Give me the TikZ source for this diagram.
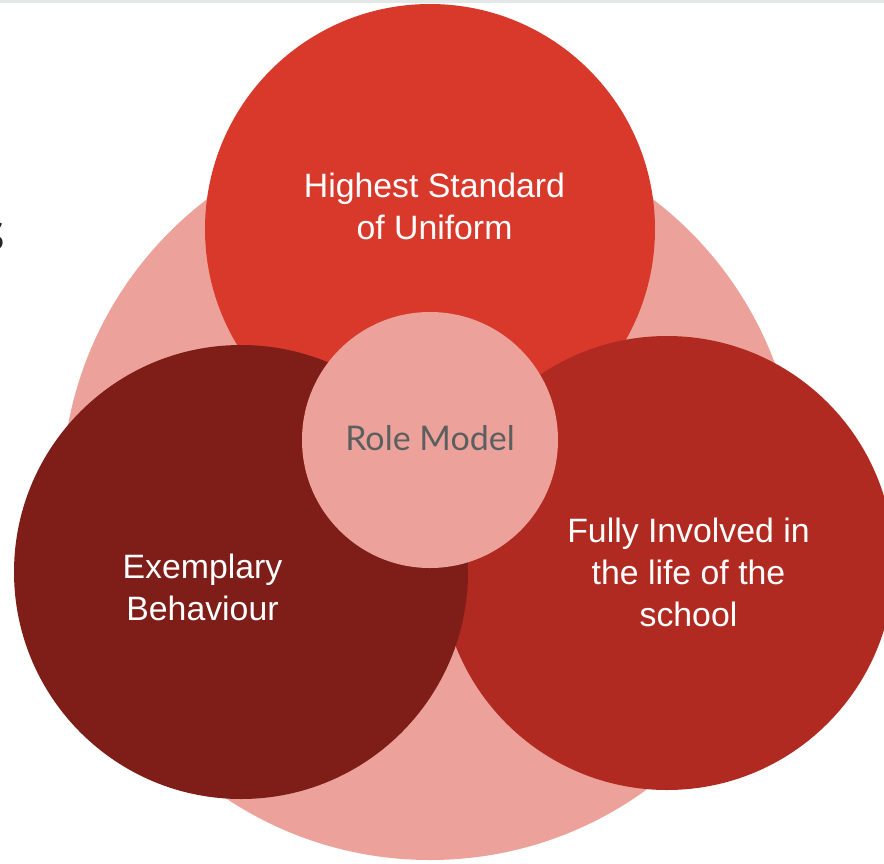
\documentclass[tikz,border=0pt]{standalone}
\usepackage{fontspec}
\setmainfont{Liberation Sans}
\newfontfamily\latofont{Lato}
\newfontfamily\notofont{Noto Sans}
\definecolor{pinkbg}{HTML}{ECA29B}
\definecolor{topred}{HTML}{D8392B}
\definecolor{darkred}{HTML}{7F1E19}
\definecolor{midred}{HTML}{B02A21}
\definecolor{graytext}{HTML}{5B5F5F}
\definecolor{topline}{HTML}{E3E7E6}
\tikzset{
  disc/.style={circle, inner sep=0pt, outer sep=0pt},
  lbl/.style={anchor=base, inner sep=0pt, text=white, font=\fontsize{33.8}{40}\selectfont},
}
\begin{document}
\begin{tikzpicture}[x=1pt,y=-1pt]
\useasboundingbox (0,0) rectangle (884,863);
\clip (0,0) rectangle (884,863);
\fill[white] (0,0) rectangle (884,863);
\fill[topline] (0,0) rectangle (884,2.6);
\node[anchor=base east, inner sep=0pt, text=black!85, font=\notofont\fontsize{52}{60}\selectfont] (frag) at (6,250) {s};
\node[disc, fill=pinkbg, minimum size=736] (big) at (430,492) {};
\node[disc, fill=topred, minimum size=450] (uniform) at (430,229) {};
\node[disc, fill=midred, minimum size=454] (involved) at (667,563) {};
\node[disc, fill=darkred, minimum size=454] (behaviour) at (241,572) {};
\node[disc, fill=pinkbg, minimum size=256] (role) at (430,440) {};
\node[lbl] (u1) at (434.5,197) {Highest Standard};
\node[lbl] (u2) at (434.5,239) {of Uniform};
\node[lbl] (b1) at (202.5,578) {Exemplary};
\node[lbl] (b2) at (202.5,620) {Behaviour};
\node[lbl] (i1) at (688.5,542) {Fully Involved in};
\node[lbl] (i2) at (688.5,584) {the life of the};
\node[lbl] (i3) at (688.5,626) {school};
\node[anchor=base, inner sep=0pt, text=graytext, font=\latofont\fontsize{34}{40}\selectfont] (rm) at (430,450.5) {Role Model};
\end{tikzpicture}
\end{document}
